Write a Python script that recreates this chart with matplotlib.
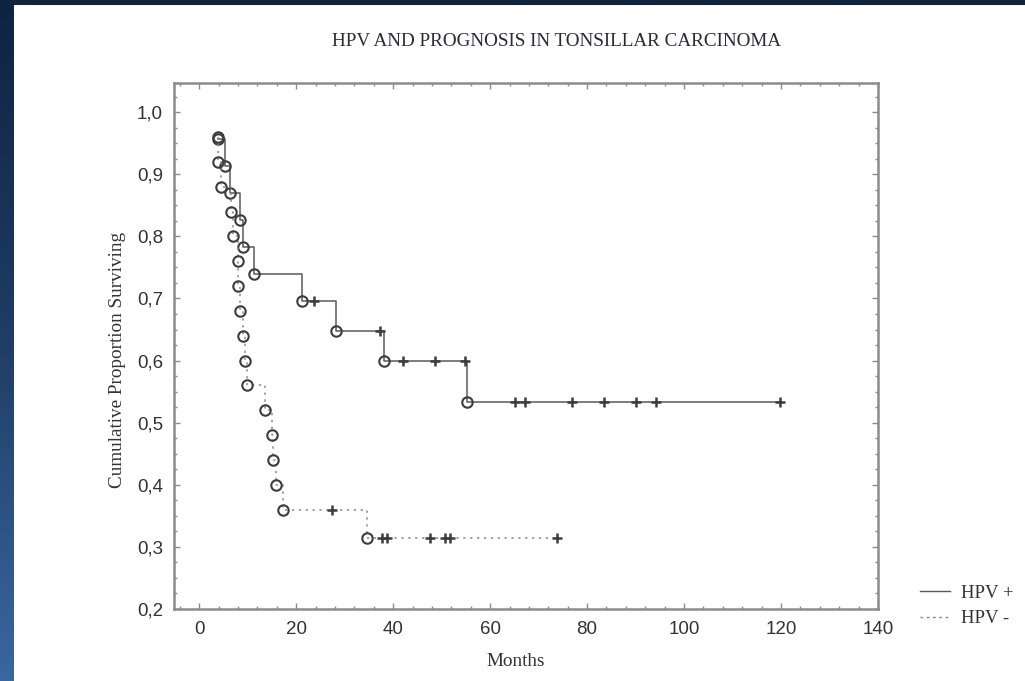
import numpy as np
import matplotlib
matplotlib.use('Agg')
import matplotlib.pyplot as plt
from matplotlib.colors import LinearSegmentedColormap
from matplotlib.lines import Line2D
from matplotlib.patches import Rectangle
from matplotlib.ticker import MultipleLocator, FuncFormatter

# === Data (months, survival) ===
hpv_pos_t = [3.9, 5.4, 6.4, 8.5, 9.1, 11.2, 21.2, 28.2, 38.1, 55.2]
hpv_pos_s = [0.957, 0.913, 0.870, 0.826, 0.783, 0.739, 0.696, 0.647, 0.599, 0.533]
hpv_pos_end = 119.8
hpv_pos_cens_t = [23.6, 37.2, 42.1, 48.7, 54.8, 65.2, 67.2, 76.8, 83.5, 90.1, 94.2, 119.8]
hpv_pos_cens_s = [0.696, 0.647, 0.599, 0.599, 0.599, 0.533, 0.533, 0.533, 0.533, 0.533, 0.533, 0.533]

hpv_neg_t = [3.9, 3.9, 4.5, 6.6, 6.9, 8.1, 8.1, 8.5, 9.0, 9.5, 9.8, 13.5, 15.1, 15.3, 15.8, 17.3, 34.7]
hpv_neg_s = [0.96, 0.92, 0.88, 0.84, 0.80, 0.76, 0.72, 0.68, 0.64, 0.60, 0.56, 0.52, 0.48, 0.44, 0.40, 0.36, 0.315]
hpv_neg_end = 73.8
hpv_neg_cens_t = [27.4, 37.7, 38.7, 47.6, 50.7, 51.8, 73.8]
hpv_neg_cens_s = [0.36, 0.315, 0.315, 0.315, 0.315, 0.315, 0.315]

W, H = 1025, 681
fig = plt.figure(figsize=(W / 100, H / 100), dpi=100)

# background frame: blue gradient with a white page on top
bg = fig.add_axes([0, 0, 1, 1], zorder=-10)
cmap = LinearSegmentedColormap.from_list('frame', ['#0f2341', '#1f3d66', '#3a67a1'])
bg.imshow(np.linspace(0, 1, 256).reshape(-1, 1), aspect='auto', cmap=cmap,
          extent=[0, 1, 0, 1])
bg.add_patch(Rectangle((14 / W, 0), 1, (H - 5) / H, transform=bg.transAxes,
                       facecolor='white', edgecolor='none'))
bg.set_xlim(0, 1)
bg.set_ylim(0, 1)
bg.axis('off')

ax = fig.add_axes([174 / W, 1 - 609 / H, (878 - 174) / W, (609 - 83) / H])
ax.set_facecolor('white')

line_col = '#5a5a5a'
mark_col = '#3c3c3c'

# HPV + (solid)
ax.step(hpv_pos_t + [hpv_pos_end], hpv_pos_s + [hpv_pos_s[-1]], where='post',
        color=line_col, lw=1.1, ls='-')
ax.plot(hpv_pos_t, hpv_pos_s, 'o', mfc='none', mec=mark_col, ms=7.5, mew=1.5)
ax.plot(hpv_pos_cens_t, hpv_pos_cens_s, '+', color=mark_col, ms=7, mew=1.8)

# HPV - (dotted)
ax.step(hpv_neg_t + [hpv_neg_end], hpv_neg_s + [hpv_neg_s[-1]], where='post',
        color='#8a8a8a', lw=1.1, ls=(0, (1.5, 3)))
ax.plot(hpv_neg_t, hpv_neg_s, 'o', mfc='none', mec=mark_col, ms=7.5, mew=1.5)
ax.plot(hpv_neg_cens_t, hpv_neg_cens_s, '+', color=mark_col, ms=7, mew=1.8)

ax.set_xlim(-5.2, 140)
ax.set_ylim(0.2, 1.047)
ax.xaxis.set_major_locator(MultipleLocator(20))
ax.xaxis.set_minor_locator(MultipleLocator(4))
ax.yaxis.set_major_locator(MultipleLocator(0.1))
ax.yaxis.set_minor_locator(MultipleLocator(0.025))
ax.yaxis.set_major_formatter(FuncFormatter(lambda v, p: f'{v:.1f}'.replace('.', ',')))

for s in ax.spines.values():
    s.set_color('#8c8c8c')
    s.set_linewidth(1.8)
ax.tick_params(which='both', direction='in', top=True, right=True, color='#8c8c8c',
               labelcolor='#333333', labelsize=13.5)
ax.tick_params(which='major', length=4, width=1)
ax.tick_params(which='minor', length=2.5, width=1)
ax.tick_params(axis='y', pad=8)
ax.tick_params(axis='x', pad=9)
for lab in ax.get_xticklabels() + ax.get_yticklabels():
    lab.set_fontfamily('Liberation Sans')

serif = 'Liberation Serif'
fig.text(557 / W, 1 - 42 / H, 'HPV AND PROGNOSIS IN TONSILLAR CARCINOMA',
         ha='center', va='center', family=serif, fontsize=13.8, color='#2a2a3a')
fig.text(117 / W, 1 - 360 / H, 'Cumulative Proportion Surviving', rotation=90,
         ha='center', va='center', family=serif, fontsize=13.8, color='#333333')
fig.text(516 / W, 1 - 662 / H, 'Months', ha='center', va='center',
         family=serif, fontsize=13.8, color='#333333')

handles = [Line2D([], [], color='#5a5a5a', lw=1.0, ls='-'),
           Line2D([], [], color='#8a8a8a', lw=1.0, ls=(0, (2, 2.5)))]
fig.legend(handles, ['HPV +', 'HPV -'], loc='center left',
           bbox_to_anchor=(903 / W, 1 - 606 / H), frameon=False,
           prop={'family': serif, 'size': 13.5}, handlelength=1.6,
           handletextpad=0.6, labelspacing=0.45, labelcolor='#333333')

fig.savefig('out.png', dpi=100)
